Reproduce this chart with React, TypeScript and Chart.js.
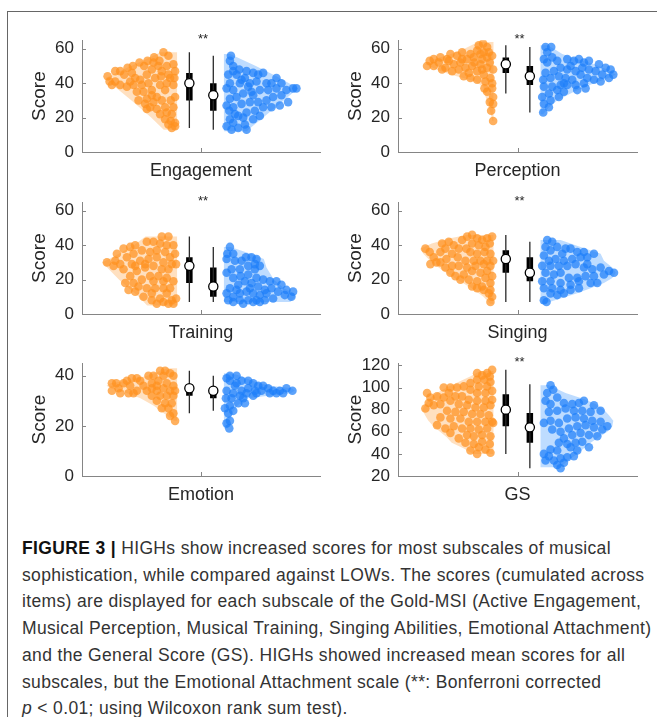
import React, { useEffect, useRef } from 'react';
import { Chart, registerables } from 'chart.js';
Chart.register(...registerables);

type Pt = [number, number];

// ---------- panel meta ----------
const panelTitles = ['Engagement', 'Perception', 'Training', 'Singing', 'Emotion', 'GS'];
const yMins = [0, 0, 0, 0, 0, 20];
const yMaxs = [65, 65, 65, 65, 45, 122];
const significance = ['**', '**', '**', '**', '', '**'];

// ---------- box stats: [whiskerLow, q1, median, q3, whiskerHigh] ----------
const engagementHighBox = [14, 30, 40, 46, 58];
const engagementLowBox = [13, 24, 33, 40, 56];
const perceptionHighBox = [34, 46, 51, 55, 62];
const perceptionLowBox = [23, 39, 44, 50, 61];
const trainingHighBox = [7, 18, 28, 33, 45];
const trainingLowBox = [7, 10, 16, 27, 39];
const singingHighBox = [7, 24, 32, 37, 46];
const singingLowBox = [7, 19, 24, 33, 42];
const emotionHighBox = [25, 32, 35, 36.5, 42];
const emotionLowBox = [26, 31, 34, 35, 40];
const gsHighBox = [40, 65, 80, 94, 116];
const gsLowBox = [27, 50, 64, 77, 103];

// ---------- violin outlines: [score, half-width] ----------
const engagementHighViolin: Pt[] = [[13, 40], [20, 78], [30, 137], [40, 200], [43, 215], [48, 162], [53, 103], [58, 50]];
const engagementLowViolin: Pt[] = [[12, 70], [13, 73], [20, 118], [30, 180], [37, 223], [44, 158], [50, 96], [57, 18]];
const perceptionHighViolin: Pt[] = [[18, 3], [25, 12], [33, 25], [38, 30], [41, 55], [43, 90], [45, 130], [48, 170], [51, 205], [54, 177], [57, 127], [60, 87], [63, 57], [64, 42]];
const perceptionLowViolin: Pt[] = [[22, 8], [26, 25], [30, 50], [35, 100], [40, 160], [43, 205], [45, 225], [48, 200], [51, 160], [54, 110], [57, 65], [60, 40], [62, 20]];
const trainingHighViolin: Pt[] = [[5, 90], [10, 115], [15, 145], [20, 175], [25, 200], [30, 225], [35, 175], [40, 130], [45, 95]];
const trainingLowViolin: Pt[] = [[7, 200], [10, 215], [12, 210], [15, 180], [20, 150], [27, 128], [32, 120], [35, 80], [39, 20]];
const singingHighViolin: Pt[] = [[6, 10], [10, 30], [15, 65], [20, 110], [25, 150], [30, 185], [35, 210], [38, 220], [41, 185], [44, 130], [46, 80]];
const singingLowViolin: Pt[] = [[6, 10], [9, 60], [12, 110], [15, 150], [18, 190], [21, 215], [24, 225], [27, 215], [31, 190], [35, 180], [39, 120], [43, 60]];
const emotionHighViolin: Pt[] = [[22, 10], [25, 40], [28, 70], [31, 110], [33, 150], [35, 200], [36, 212], [37, 200], [38, 150], [40, 90], [42, 50], [43, 30]];
const emotionLowViolin: Pt[] = [[19, 12], [22, 18], [25, 25], [28, 40], [31, 70], [33, 200], [34, 213], [35, 205], [36, 140], [37, 110], [38, 85], [40, 50], [41, 20]];
const gsHighViolin: Pt[] = [[40, 60], [45, 90], [50, 125], [55, 140], [60, 160], [65, 180], [70, 195], [75, 205], [80, 213], [85, 205], [90, 190], [95, 170], [100, 140], [105, 105], [110, 70], [115, 40]];
const gsLowViolin: Pt[] = [[28, 60], [35, 85], [40, 110], [45, 130], [50, 150], [55, 175], [60, 200], [65, 215], [70, 218], [75, 205], [80, 190], [85, 165], [90, 125], [95, 75], [100, 40], [102, 25]];

// ---------- individual scores: [jitter position, score] ----------
const engagementHighDots: Pt[] = [[245,58],[260,56],[217,55],[197,53],[233,53],[173,52],[153,50],[137,49],[115,47],[100,47],[77,44],[83,41],[100,41],[115,39],[135,38],[155,39],[175,42],[195,45],[210,48],[230,50],[255,50],[275,51],[280,47],[278,43],[260,45],[240,47],[220,43],[200,40],[180,39],[165,35],[185,35],[210,36],[235,39],[255,40],[275,39],[250,36],[225,32],[195,31],[170,30],[190,28],[215,29],[240,30],[267,30],[275,26],[250,26],[225,25],[205,26],[235,22],[255,23],[270,22],[250,19],[267,18],[280,17],[260,16],[270,14],[280,15],[127,45],[150,46],[90,39],[160,43],[145,41],[215,52],[187,50],[265,43],[238,44],[210,33],[195,25],[280,32]];
const engagementLowDots: Pt[] = [[448,56],[445,53],[455,50],[473,48],[495,47],[515,46],[545,46],[490,43],[465,45],[440,45],[445,40],[435,37],[455,36],[475,40],[505,40],[525,41],[555,40],[585,43],[600,40],[615,36],[635,37],[645,37],[585,37],[560,36],[535,36],[510,35],[485,34],[465,32],[445,31],[435,27],[455,26],[480,28],[505,29],[530,29],[555,30],[575,32],[600,33],[620,29],[595,27],[570,26],[545,26],[520,24],[495,23],[470,21],[445,19],[435,15],[450,13],[470,14],[490,16],[515,19],[535,21],[495,13],[455,17],[443,24],[515,33],[500,38],[480,42],[455,47],[530,45],[570,40],[460,22],[485,20]];
const perceptionHighDots: Pt[] = [[255,63],[242,62],[267,61],[237,59],[257,58],[282,56],[217,57],[192,58],[177,56],[157,57],[147,54],[127,55],[107,54],[95,53],[87,50],[107,50],[122,52],[142,49],[167,51],[187,52],[207,54],[227,55],[252,54],[275,52],[285,48],[267,49],[247,51],[222,50],[202,49],[182,48],[162,47],[212,46],[237,47],[257,45],[277,43],[282,40],[262,41],[237,42],[217,43],[197,44],[259,37],[282,37],[267,35],[285,32],[275,29],[285,28],[279,24],[285,18],[132,48],[152,53],[247,57],[272,58],[267,55],[229,52],[252,48],[192,54]];
const perceptionLowDots: Pt[] = [[442,61],[459,61],[447,58],[462,55],[437,54],[447,52],[477,53],[507,54],[527,53],[542,54],[557,52],[572,53],[602,51],[622,49],[637,48],[645,45],[632,43],[612,45],[592,47],[572,48],[552,49],[532,47],[507,48],[487,49],[467,47],[442,46],[435,42],[457,43],[482,44],[502,43],[522,42],[547,45],[567,43],[587,42],[607,41],[557,40],[532,39],[507,39],[487,39],[462,38],[437,38],[477,36],[537,36],[497,35],[452,34],[432,32],[482,32],[457,30],[437,28],[452,26],[435,23],[497,40],[562,37],[517,50]];
const trainingHighDots: Pt[] = [[75,30],[100,31],[125,38],[145,39],[160,40],[195,42],[215,42],[240,45],[260,45],[235,41],[255,40],[275,40],[280,35],[265,33],[250,36],[225,37],[205,36],[180,37],[155,35],[135,33],[115,29],[95,28],[125,26],[150,29],[175,31],[200,32],[225,33],[245,30],[270,29],[283,29],[260,26],[240,26],[215,28],[190,27],[165,25],[145,22],[130,18],[155,18],[180,20],[205,22],[230,22],[255,21],[275,19],[265,15],[245,15],[220,15],[195,15],[160,13],[185,10],[210,8],[235,9],[255,12],[270,8],[283,9],[245,7],[225,6],[260,6],[275,6],[210,12],[140,14],[170,16],[215,19],[245,19],[190,29],[160,28],[105,35]];
const trainingLowDots: Pt[] = [[445,39],[437,35],[455,35],[435,32],[460,31],[480,31],[493,33],[510,33],[525,32],[535,28],[520,26],[500,28],[475,26],[450,26],[435,24],[455,21],[477,22],[500,23],[525,21],[545,20],[565,19],[585,19],[600,17],[615,14],[635,13],[630,10],[610,11],[590,13],[570,15],[550,14],[530,16],[510,18],[490,19],[470,17],[445,15],[435,12],[455,10],[475,12],[495,13],[515,12],[535,11],[555,12],[575,9],[550,8],[525,8],[500,8],[475,8],[455,7],[440,8],[515,7],[485,6],[505,15],[520,29],[465,14],[535,7]];
const singingHighDots: Pt[] = [[82,38],[95,36],[107,33],[97,29],[115,30],[132,41],[142,38],[127,36],[152,42],[167,40],[182,38],[192,43],[207,45],[222,46],[237,44],[252,43],[267,44],[282,45],[275,41],[262,39],[242,40],[222,41],[205,38],[217,36],[237,35],[259,36],[277,35],[285,31],[267,31],[247,31],[227,31],[202,31],[179,33],[162,35],[145,32],[127,30],[142,27],[162,28],[182,28],[207,27],[232,28],[257,29],[277,28],[267,25],[247,24],[222,25],[197,23],[172,22],[157,24],[187,20],[212,20],[237,19],[262,21],[282,22],[277,18],[252,16],[222,16],[277,14],[272,12],[282,10],[277,7],[257,14],[237,15]];
const singingLowDots: Pt[] = [[447,43],[462,42],[442,39],[457,37],[437,34],[477,39],[492,35],[517,38],[537,36],[557,36],[587,35],[567,33],[547,33],[522,32],[497,31],[472,32],[452,31],[432,28],[457,28],[482,28],[507,28],[532,29],[557,27],[582,26],[607,27],[632,25],[647,24],[617,23],[587,22],[562,22],[537,21],[512,21],[487,24],[467,23],[442,24],[432,19],[457,19],[487,18],[517,17],[542,19],[577,18],[597,18],[542,15],[517,14],[487,14],[462,15],[437,15],[457,12],[477,11],[437,8],[445,7],[497,12],[567,29],[502,38]];
const emotionHighDots: Pt[] = [[90,37],[103,37],[90,34],[110,35],[125,37],[135,38],[150,39],[165,39],[145,36],[165,34],[140,33],[115,33],[185,36],[200,40],[215,40],[210,37],[195,34],[210,32],[225,34],[235,42],[250,42],[265,41],[275,40],[245,40],[230,38],[255,37],[275,36],[265,34],[245,35],[235,32],[255,32],[275,32],[225,30],[250,29],[270,29],[260,27],[275,25],[265,24],[280,22],[240,27],[210,35],[175,38],[155,33],[225,36],[280,34]];
const emotionLowDots: Pt[] = [[435,39],[445,40],[465,40],[445,38],[460,36],[480,38],[500,38],[515,37],[530,36],[545,36],[560,35],[575,34],[595,34],[615,35],[633,34],[605,33],[585,33],[565,33],[540,34],[520,34],[500,35],[480,34],[495,33],[515,32],[475,32],[455,33],[435,34],[433,31],[450,31],[470,29],[490,29],[445,28],[430,27],[440,25],[445,22],[435,21],[443,19],[455,26],[465,37],[525,33],[485,31]];
const gsHighDots: Pt[] = [[282,116],[267,113],[252,111],[237,113],[275,110],[259,107],[277,105],[237,107],[217,104],[242,101],[267,101],[282,97],[262,95],[237,95],[217,98],[197,101],[177,100],[157,100],[137,100],[152,95],[172,92],[192,92],[212,89],[237,88],[262,88],[282,89],[277,84],[257,82],[232,82],[207,84],[182,85],[157,88],[137,91],[117,92],[97,91],[87,95],[92,86],[82,81],[107,84],[127,85],[147,79],[172,78],[197,78],[222,76],[247,76],[272,75],[282,69],[262,69],[237,69],[212,69],[187,72],[157,72],[127,73],[117,66],[142,63],[167,65],[192,63],[217,63],[242,62],[267,63],[285,68],[277,56],[252,57],[227,56],[207,57],[182,54],[157,59],[227,49],[252,51],[275,49],[242,46],[262,44],[277,41],[237,40],[217,43],[202,50]];
const gsLowDots: Pt[] = [[457,102],[465,98],[447,95],[477,91],[442,88],[457,85],[497,86],[522,85],[542,86],[557,88],[587,84],[607,79],[577,78],[552,79],[527,79],[502,81],[477,79],[452,78],[437,68],[457,70],[482,68],[507,72],[532,73],[557,72],[582,70],[607,69],[627,65],[612,62],[587,64],[562,66],[537,65],[512,63],[487,60],[462,62],[497,54],[522,57],[547,59],[572,57],[597,56],[572,46],[552,51],[532,50],[507,49],[482,50],[457,44],[477,43],[437,40],[452,38],[442,34],[467,34],[487,36],[507,37],[527,38],[497,32],[477,30],[487,27],[537,43],[517,46]];

const highDots = [engagementHighDots, perceptionHighDots, trainingHighDots, singingHighDots, emotionHighDots, gsHighDots];
const lowDots = [engagementLowDots, perceptionLowDots, trainingLowDots, singingLowDots, emotionLowDots, gsLowDots];
const highViolins = [engagementHighViolin, perceptionHighViolin, trainingHighViolin, singingHighViolin, emotionHighViolin, gsHighViolin];
const lowViolins = [engagementLowViolin, perceptionLowViolin, trainingLowViolin, singingLowViolin, emotionLowViolin, gsLowViolin];
const highBoxes = [engagementHighBox, perceptionHighBox, trainingHighBox, singingHighBox, emotionHighBox, gsHighBox];
const lowBoxes = [engagementLowBox, perceptionLowBox, trainingLowBox, singingLowBox, emotionLowBox, gsLowBox];

// ---------- layout / style ----------
const X = { min: 0, max: 716, center: 358, highEdge: 286, lowEdge: 427, highBox: 323, lowBox: 395, sig: 364 };
const ORANGE = 'rgba(255,146,32,0.72)';
const ORANGE_FILL = 'rgba(255,160,60,0.32)';
const BLUE = 'rgba(30,128,250,0.72)';
const BLUE_FILL = 'rgba(40,140,255,0.30)';
const AXIS = '#858585';
const TEXT = '#262626';
const FONT = '"Liberation Sans", Arial, sans-serif';

const frames = [
  { left: 22, top: 22, width: 304, height: 160 },
  { left: 338, top: 22, width: 305, height: 160 },
  { left: 22, top: 184, width: 304, height: 160 },
  { left: 338, top: 184, width: 305, height: 160 },
  { left: 22, top: 345, width: 304, height: 161 },
  { left: 338, top: 345, width: 305, height: 161 },
];

function violinPolygon(v: Pt[], edge: number, dir: number) {
  const pts = [{ x: edge, y: v[0][0] }];
  v.forEach(([y, w]) => pts.push({ x: edge + dir * w, y }));
  pts.push({ x: edge, y: v[v.length - 1][0] });
  pts.push({ x: edge, y: v[0][0] });
  return pts;
}

function boxDatasets(b: number[], x: number) {
  return [
    { data: [{ x, y: b[0] }, { x, y: b[4] }], borderColor: '#2a2a2a', borderWidth: 1.3, pointRadius: 0, order: 1 },
    { data: [{ x, y: b[1] }, { x, y: b[3] }], borderColor: '#000', borderWidth: 6.5, borderCapStyle: 'butt', pointRadius: 0, order: 1 },
    { data: [{ x, y: b[2] }], showLine: false, pointRadius: 4.6, pointBackgroundColor: '#fff', pointBorderColor: '#000', pointBorderWidth: 1.3, order: 0 },
  ];
}

function Panel({ idx }: { idx: number }) {
  const ref = useRef<HTMLCanvasElement>(null);
  useEffect(() => {
    const sig = significance[idx];
    const datasets: any[] = [
      { data: violinPolygon(highViolins[idx], X.highEdge, -1), fill: 'shape', backgroundColor: ORANGE_FILL, borderWidth: 0, pointRadius: 0, order: 3 },
      { data: violinPolygon(lowViolins[idx], X.lowEdge, 1), fill: 'shape', backgroundColor: BLUE_FILL, borderWidth: 0, pointRadius: 0, order: 3 },
      { data: highDots[idx].map(([x, y]) => ({ x, y })), showLine: false, pointRadius: 4.3, pointBackgroundColor: ORANGE, pointBorderWidth: 0, order: 2 },
      { data: lowDots[idx].map(([x, y]) => ({ x, y })), showLine: false, pointRadius: 4.3, pointBackgroundColor: BLUE, pointBorderWidth: 0, order: 2 },
      ...boxDatasets(highBoxes[idx], X.highBox),
      ...boxDatasets(lowBoxes[idx], X.lowBox),
    ];
    const chart = new Chart(ref.current!, {
      type: 'line',
      data: { datasets },
      options: {
        animation: false,
        responsive: false,
        events: [],
        layout: { padding: { top: 14, right: 6, left: 0, bottom: 0 } },
        plugins: { legend: { display: false }, tooltip: { enabled: false } },
        elements: { point: { hoverRadius: 0 } },
        scales: {
          x: {
            type: 'linear', min: X.min, max: X.max,
            grid: { display: false },
            border: { display: true, color: AXIS, width: 1 },
            ticks: { display: false },
            title: { display: true, text: panelTitles[idx], color: TEXT, font: { family: FONT, size: 18 }, padding: { top: 8, bottom: 0 } },
            afterFit: (s: any) => { s.height = 30; },
          },
          y: {
            type: 'linear', min: yMins[idx], max: yMaxs[idx],
            grid: { display: false, drawTicks: false },
            border: { display: true, color: AXIS, width: 1 },
            ticks: { stepSize: 20, includeBounds: false, autoSkip: false, color: TEXT, padding: 8, font: { family: FONT, size: 17 } },
            title: { display: true, text: 'Score', color: TEXT, font: { family: FONT, size: 19 }, padding: { top: 6, bottom: 0 } },
            afterFit: (s: any) => { s.width = 60; },
          },
        },
      } as any,
      plugins: [{
        id: 'decor',
        afterDraw(c: any) {
          const { ctx, chartArea, scales } = c;
          ctx.save();
          ctx.strokeStyle = AXIS;
          ctx.lineWidth = 1;
          scales.y.ticks.forEach((t: any) => {
            const py = Math.round(scales.y.getPixelForValue(t.value)) + 0.5;
            ctx.beginPath(); ctx.moveTo(chartArea.left, py); ctx.lineTo(chartArea.left + 4, py); ctx.stroke();
          });
          const px = Math.round(scales.x.getPixelForValue(X.center)) + 0.5;
          ctx.beginPath(); ctx.moveTo(px, chartArea.bottom); ctx.lineTo(px, chartArea.bottom - 4); ctx.stroke();
          if (sig) {
            ctx.fillStyle = TEXT;
            ctx.font = `13px ${FONT}`;
            ctx.textAlign = 'center';
            ctx.textBaseline = 'middle';
            ctx.fillText(sig, scales.x.getPixelForValue(X.sig), chartArea.top - 1);
          }
          ctx.restore();
        },
      }],
    });
    return () => chart.destroy();
  }, [idx]);
  const f = frames[idx];
  return (
    <canvas ref={ref} width={f.width} height={f.height}
      style={{ position: 'absolute', left: f.left, top: f.top, width: f.width, height: f.height }} />
  );
}

const captionLines = [
  'HIGHs show increased scores for most subscales of musical',
  'sophistication, while compared against LOWs. The scores (cumulated across',
  'items) are displayed for each subscale of the Gold-MSI (Active Engagement,',
  'Musical Perception, Musical Training, Singing Abilities, Emotional Attachment)',
  'and the General Score (GS). HIGHs showed increased mean scores for all',
  'subscales, but the Emotional Attachment scale (**: Bonferroni corrected',
  ' < 0.01; using Wilcoxon rank sum test).',
];

export default function App() {
  return (
    <div style={{ position: 'absolute', left: 0, top: 0, width: 657, height: 717, overflow: 'hidden', background: '#fff' }}>
      <div style={{ position: 'absolute', left: 7, top: 11, width: 720, height: 800, borderTop: '1.5px solid #666', borderLeft: '1.5px solid #666' }} />
      {frames.map((_, i) => <Panel key={i} idx={i} />)}
      <div style={{ position: 'absolute', left: 22, top: 535, fontFamily: FONT, fontSize: 17.5, letterSpacing: '0.35px', lineHeight: '26.7px', color: '#333', whiteSpace: 'nowrap' }}>
        {captionLines.map((ln, i) => (
          <div key={i}>
            {i === 0 && <b style={{ color: '#111' }}>FIGURE 3 | </b>}
            {i === 6 && <i>p</i>}
            {ln}
          </div>
        ))}
      </div>
    </div>
  );
}
